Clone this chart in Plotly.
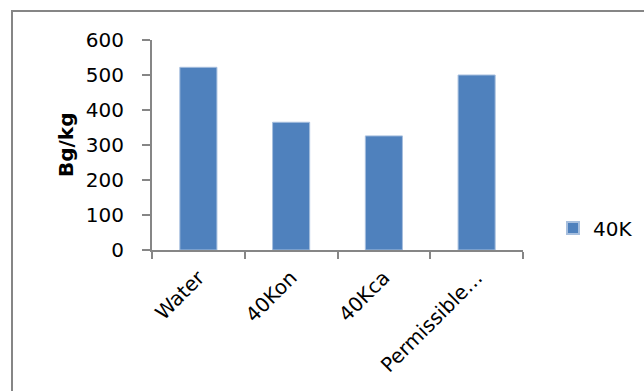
import plotly.graph_objects as go

# Activity concentrations (Bq/kg) for each sample
categories = ["Water", "40Kon", "40Kca", "Permissible…"]
values_40k = [522, 365, 326, 500]
series_name = "40K"
y_ticks = [0, 100, 200, 300, 400, 500, 600]

W, H = 644, 391
L, T, B = 152, 40, 141
plot_right = 523                      # right end of the category axis
pw = W - L                            # paper width (no right margin)
ph = H - T - B

def px_x(x):
    return (x - L) / pw

def px_y(y):
    return (H - B - y) / ph

font = "DejaVu Sans"
axis_col = "#868686"

fig = go.Figure()
fig.add_trace(go.Bar(
    x=categories,
    y=values_40k,
    name=series_name,
    marker=dict(color="#4F81BD", line=dict(color="#A7BFDE", width=1)),
    showlegend=True,
))

fig.update_layout(
    width=W, height=H,
    margin=dict(l=L, r=0, t=T, b=B, pad=0, autoexpand=False),
    paper_bgcolor="white",
    plot_bgcolor="white",
    bargap=0.6,
    font=dict(family=font, size=20, color="black"),
    showlegend=True,
    legend=dict(
        x=px_x(553), y=px_y(228), xanchor="left", yanchor="middle",
        font=dict(family=font, size=20, color="black"),
        bgcolor="rgba(0,0,0,0)",
        itemsizing="constant",
        itemwidth=30,
    ),
    xaxis=dict(
        domain=[0, px_x(plot_right)],
        type="category",
        automargin=False,
        showline=True, linecolor=axis_col, linewidth=2,
        ticks="outside", ticklen=7, tickwidth=2, tickcolor=axis_col,
        tickson="boundaries",
        tickangle=-45,
        ticklabelstandoff=6,
        showgrid=False, zeroline=False,
        tickfont=dict(family=font, size=20),
    ),
    yaxis=dict(
        range=[0, 600],
        tickvals=y_ticks,
        automargin=False,
        showline=True, linecolor=axis_col, linewidth=2,
        ticks="outside", ticklen=8, tickwidth=2, tickcolor=axis_col,
        ticklabelstandoff=14,
        showgrid=False, zeroline=False,
        tickfont=dict(family=font, size=20),
    ),
    annotations=[dict(
        text="<b>Bg/kg</b>",
        x=px_x(66), y=px_y(145),
        xref="paper", yref="paper",
        xanchor="center", yanchor="middle",
        textangle=-90, showarrow=False,
        font=dict(family=font, size=20, color="black"),
    )],
    shapes=[dict(
        type="rect", xref="paper", yref="paper",
        x0=px_x(12), y0=px_y(11), x1=px_x(700), y1=px_y(450),
        line=dict(color=axis_col, width=2),
        fillcolor="rgba(0,0,0,0)",
        layer="below",
    )],
)

fig.write_html("out.html")
